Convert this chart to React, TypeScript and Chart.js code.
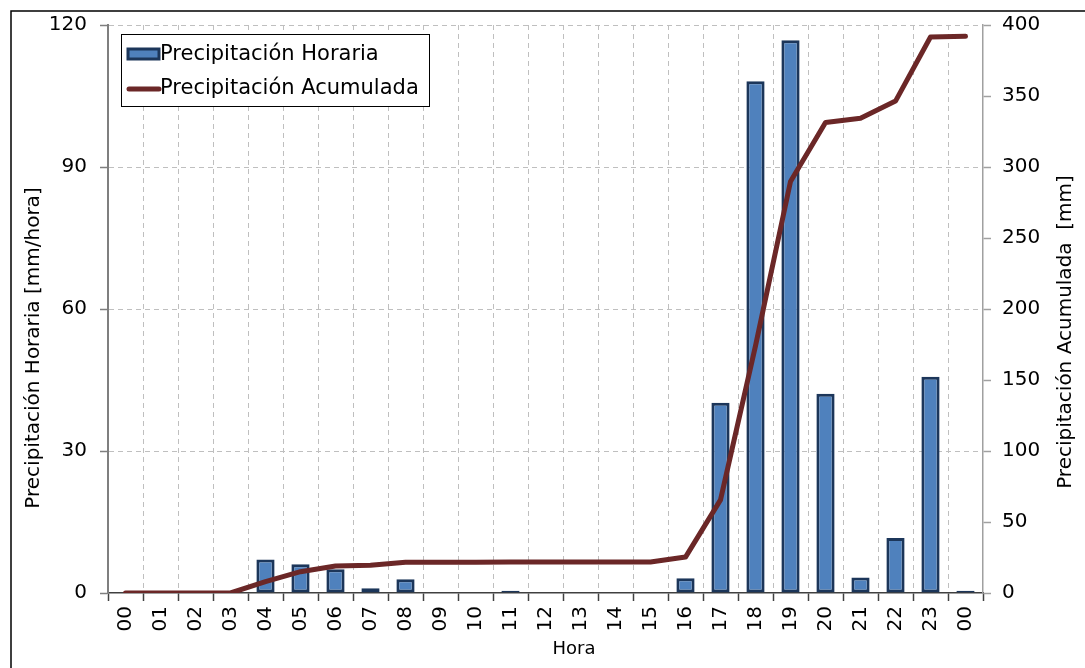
import { useEffect, useRef } from 'react';
import { Chart, registerables } from 'chart.js';

Chart.register(...registerables);

// ---- data ----
const hours = ['00', '01', '02', '03', '04', '05', '06', '07', '08', '09', '10', '11', '12', '13', '14', '15', '16', '17', '18', '19', '20', '21', '22', '23', '00'];
const hourlyRain = [0, 0, 0, 0, 7.1, 6.1, 5.0, 1.0, 2.9, 0, 0, 0.5, 0, 0, 0, 0, 3.1, 40.2, 108.1, 116.8, 42.1, 3.3, 11.6, 45.7, 0.5];
const accumulatedRain = [0, 0, 0, 0, 8, 15, 19, 19.6, 21.7, 21.7, 21.7, 21.9, 21.9, 21.9, 21.9, 21.9, 25.3, 65.6, 174, 289.8, 331.4, 334.3, 346.4, 391.5, 392];
const leftAxisTicks = [0, 30, 60, 90, 120];
const rightAxisTicks = [0, 50, 100, 150, 200, 250, 300, 350, 400];

const seriesNames = ['Precipitación Horaria', 'Precipitación Acumulada'];
const leftTitle = 'Precipitación Horaria [mm/hora]';
const rightTitle = 'Precipitación Acumulada  [mm]';
const xTitle = 'Hora';

const FONT = "'DejaVu Sans', sans-serif";
const BAR_FILL = '#4F81BD';
const BAR_EDGE = '#1C365A';
const LINE_COLOR = '#6B2727';
const GRID = '#BFBFBF';
const CLEAR = 'rgba(0,0,0,0)';

const decorPlugin = {
  id: 'decor',
  afterDraw(chart: any) {
    const { ctx, chartArea } = chart;
    ctx.save();
    // outer frame (top + left visible)
    ctx.strokeStyle = '#000';
    ctx.lineWidth = 1.5;
    ctx.beginPath();
    ctx.moveTo(11, chart.height);
    ctx.lineTo(11, 11);
    ctx.lineTo(chart.width, 11);
    ctx.stroke();

    // legend box
    const lx = chartArea.left + 13;
    const ly = chartArea.top + 9;
    const lw = 308;
    const lh = 72;
    ctx.fillStyle = '#fff';
    ctx.fillRect(lx, ly, lw, lh);
    ctx.strokeStyle = '#000';
    ctx.lineWidth = 1;
    ctx.strokeRect(lx + 0.5, ly + 0.5, lw, lh);

    // entry 1: bar swatch
    ctx.fillStyle = BAR_FILL;
    ctx.fillRect(lx + 7, ly + 15, 31, 10);
    ctx.strokeStyle = BAR_EDGE;
    ctx.lineWidth = 3;
    ctx.strokeRect(lx + 7, ly + 15, 31, 10);

    ctx.fillStyle = '#000';
    ctx.font = `21px ${FONT}`;
    ctx.textAlign = 'left';
    ctx.textBaseline = 'middle';
    ctx.fillText(seriesNames[0], lx + 39, ly + 21);

    // entry 2: line swatch
    ctx.strokeStyle = LINE_COLOR;
    ctx.lineWidth = 5;
    ctx.lineCap = 'round';
    ctx.beginPath();
    ctx.moveTo(lx + 8, ly + 55);
    ctx.lineTo(lx + 38, ly + 55);
    ctx.stroke();
    ctx.fillStyle = '#000';
    ctx.fillText(seriesNames[1], lx + 39, ly + 55);

    // axis titles
    ctx.font = `20px ${FONT}`;
    ctx.textAlign = 'center';
    ctx.textBaseline = 'middle';
    ctx.save();
    ctx.translate(34, 348);
    ctx.rotate(-Math.PI / 2);
    ctx.fillText(leftTitle, 0, 0);
    ctx.restore();

    ctx.save();
    ctx.translate(1066, 332);
    ctx.rotate(-Math.PI / 2);
    ctx.fillText(rightTitle, 0, 0);
    ctx.restore();

    ctx.font = `18px ${FONT}`;
    ctx.fillText(xTitle, 574, 649);
    ctx.restore();
  },
};

export default function App() {
  const canvasRef = useRef<HTMLCanvasElement | null>(null);

  useEffect(() => {
    if (!canvasRef.current) return;
    const chart = new Chart(canvasRef.current, {
      type: 'bar',
      data: {
        labels: hours,
        datasets: [
          {
            type: 'line',
            label: seriesNames[1],
            data: accumulatedRain,
            yAxisID: 'y1',
            borderColor: LINE_COLOR,
            backgroundColor: LINE_COLOR,
            borderWidth: 5,
            pointRadius: 0,
            tension: 0,
            borderJoinStyle: 'round',
            borderCapStyle: 'round',
            order: 0,
          } as any,
          {
            type: 'bar',
            label: seriesNames[0],
            data: hourlyRain,
            yAxisID: 'y',
            backgroundColor: BAR_FILL,
            borderColor: BAR_EDGE,
            borderWidth: 3,
            borderSkipped: false,
            categoryPercentage: 1,
            barPercentage: 0.52,
            order: 1,
          } as any,
        ],
      },
      options: {
        responsive: false,
        animation: false,
        devicePixelRatio: 1,
        layout: { padding: { top: 23, left: 0, right: 0, bottom: 0 } },
        plugins: {
          legend: { display: false },
          tooltip: { enabled: false },
        },
        scales: {
          x: {
            type: 'category',
            offset: true,
            afterFit: (s: any) => {
              s.height = 75;
            },
            grid: {
              offset: true,
              color: (c: any) => (c.type !== 'tick' || c.index === 0 ? CLEAR : GRID),
              lineWidth: 1,
              tickLength: 8,
              tickColor: '#404040',
              tickWidth: 1.5,
            },
            border: { display: true, color: '#404040', width: 1.5, dash: [5, 4] },
            ticks: {
              autoSkip: false,
              minRotation: 90,
              maxRotation: 90,
              padding: 5,
              color: '#000',
              font: { family: FONT, size: 20 },
            },
          },
          y: {
            position: 'left',
            min: leftAxisTicks[0],
            max: leftAxisTicks[leftAxisTicks.length - 1],
            afterFit: (s: any) => {
              s.width = 108;
            },
            afterBuildTicks: (s: any) => {
              s.ticks = leftAxisTicks.map((v) => ({ value: v }));
            },
            grid: {
              color: (c: any) => (c.tick && c.tick.value === 0 ? CLEAR : GRID),
              lineWidth: 1,
              tickLength: 8,
              tickColor: '#7F7F7F',
              tickWidth: 1.5,
            },
            border: { display: true, color: '#7F7F7F', width: 2, dash: [5, 4] },
            ticks: {
              padding: 13,
              color: '#000',
              font: { family: FONT, size: 20 },
            },
          },
          y1: {
            position: 'right',
            min: rightAxisTicks[0],
            max: rightAxisTicks[rightAxisTicks.length - 1],
            afterFit: (s: any) => {
              s.width = 102;
            },
            afterBuildTicks: (s: any) => {
              s.ticks = rightAxisTicks.map((v) => ({ value: v }));
            },
            grid: {
              drawOnChartArea: false,
              tickLength: 8,
              tickColor: '#A0A0A0',
              tickWidth: 1.5,
            },
            border: { display: true, color: '#A0A0A0', width: 1.5 },
            ticks: {
              padding: 11,
              color: '#000',
              font: { family: FONT, size: 20 },
            },
          },
        },
      },
      plugins: [decorPlugin],
    } as any);
    return () => chart.destroy();
  }, []);

  return (
    <div style={{ position: 'fixed', left: 0, top: 0, width: 1085, height: 668, background: '#fff' }}>
      <canvas ref={canvasRef} width={1085} height={668} style={{ display: 'block' }} />
    </div>
  );
}
